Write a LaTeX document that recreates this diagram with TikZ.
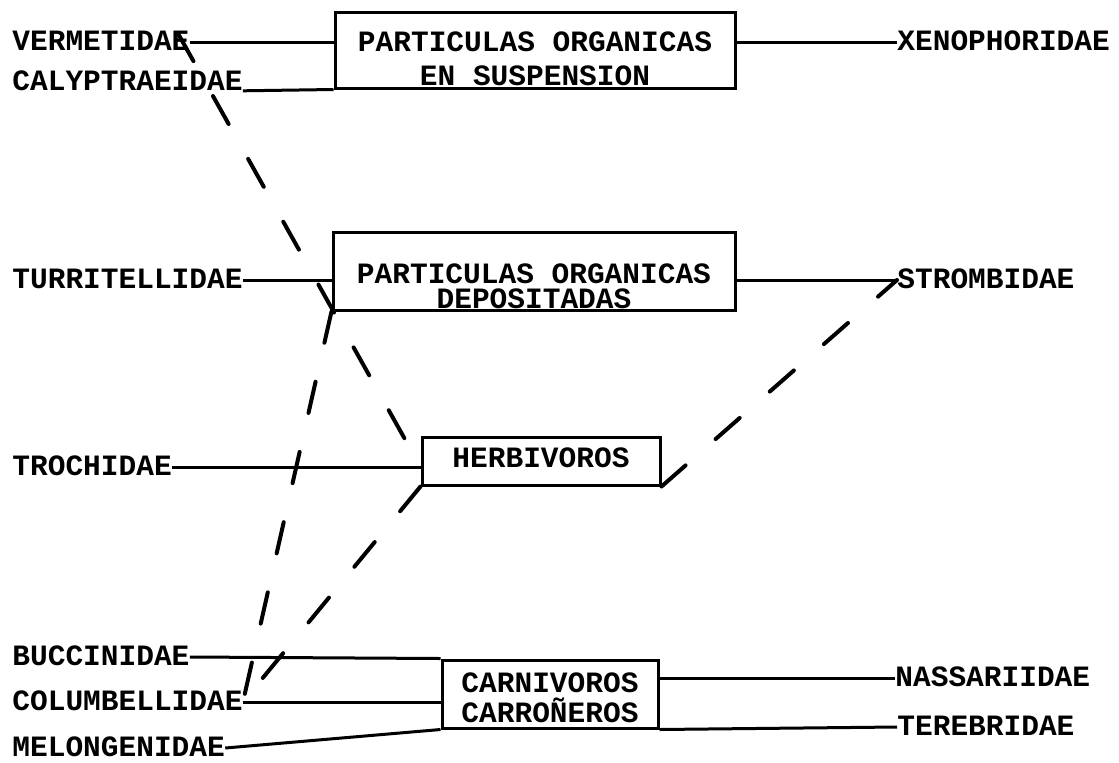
\documentclass[tikz,border=0pt]{standalone}
\usepackage{fontspec}
\usepackage{tikz}
\usetikzlibrary{calc}
\newfontfamily\typefont{Liberation Mono}

\begin{document}
\begin{tikzpicture}[x=0.5pt, y=-0.5pt,
    taxon/.style={font=\typefont\bfseries\fontsize{14.75pt}{17pt}\selectfont, inner sep=0pt, text height=8.4pt, text depth=0pt, anchor=west},
    foodbox/.style={draw, line width=1.5pt, inner sep=0pt, align=center, font=\typefont\bfseries\fontsize{14.75pt}{#1}\selectfont,
      execute at begin node={\spaceskip=8.85pt\baselineskip=#1\relax}},
    solidlink/.style={line width=1.5pt},
    dashlink/.style={line width=2pt, line cap=round, dash pattern=on 16pt off 20pt}]

      % --- Frame (reference page size) ---
      \useasboundingbox (0,0) rectangle (1119,762);

      % --- Food sources (boxes) ---
      \node[foodbox=17pt, text width=200pt, minimum height=38pt, text height=1.4pt, text depth=0pt] (susp) at (535,50) {PARTICULAS ORGANICAS\\EN SUSPENSION};
      \node[foodbox=12.5pt, text width=201pt, minimum height=39pt, text height=12pt, text depth=0pt] (depo) at (534,271) {PARTICULAS ORGANICAS\\DEPOSITADAS};
      \node[foodbox=17pt, text width=119pt, minimum height=24pt, text height=8.4pt, text depth=2.4pt] (herb) at (541,461) {HERBIVOROS};
      \node[foodbox=15pt, text width=108pt, minimum height=34pt, text height=0pt, text depth=2pt] (carn) at (550,694) {CARNIVOROS\\CARROÑEROS};

      % --- Families, left column ---
      \node[taxon] (verm) at (12,42) {VERMETIDAE};
      \node[taxon] (calyp) at (12,82) {CALYPTRAEIDAE};
      \node[taxon] (turr) at (12,280) {TURRITELLIDAE};
      \node[taxon] (troc) at (12,467) {TROCHIDAE};
      \node[taxon] (bucc) at (12,657) {BUCCINIDAE};
      \node[taxon] (colu) at (12,702) {COLUMBELLIDAE};
      \node[taxon] (melo) at (12,748) {MELONGENIDAE};

      % --- Families, right column ---
      \node[taxon] (xeno) at (897,42) {XENOPHORIDAE};
      \node[taxon] (strom) at (897,280) {STROMBIDAE};
      \node[taxon] (nass) at (895,678) {NASSARIIDAE};
      \node[taxon] (tere) at (897,727) {TEREBRIDAE};

      \coordinate (trocend) at (troc.east -| herb.west);

      % --- Solid links ---
      \draw[solidlink] (verm.east) -- (verm.east -| susp.west);
      \draw[solidlink] (calyp.south east) -- (susp.south west);
      \draw[solidlink] (susp.east |- xeno.west) -- (xeno.west);
      \draw[solidlink] (turr.east) -- (turr.east -| depo.west);
      \draw[solidlink] (depo.east |- strom.west) -- (strom.west);
      \draw[solidlink] (troc.east) -- (trocend);
      \draw[solidlink] (bucc.east) -- (carn.north west);
      \draw[solidlink] (colu.east) -- (colu.east -| carn.west);
      \draw[solidlink] (melo.east) -- (carn.south west);
      \draw[solidlink] (carn.east |- nass.west) -- (nass.west);
      \draw[solidlink] (carn.south east) -- (tere.west);

      % --- Dashed links ---
      \draw[dashlink] ($(verm.north east)+(-12,0)$) -- (trocend);
      \draw[dashlink] (depo.south west) -- (colu.east);
      \draw[dashlink] (herb.south west) -- (colu.east);
      \draw[dashlink] (herb.south east) -- (strom.west);

\end{tikzpicture}
\end{document}
